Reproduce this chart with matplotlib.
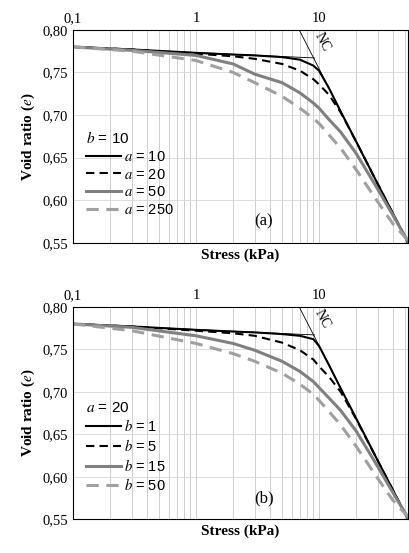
import numpy as np
import matplotlib.pyplot as plt

plt.rcParams['font.family'] = ['Liberation Serif', 'DejaVu Serif']
plt.rcParams['mathtext.fontset'] = 'stix'

stress = [0.1, 0.3, 1, 2, 3, 5, 7, 9, 10, 12, 15, 20, 30, 40, 52.8]

# panel (a): b = 10
a10 = [0.780, 0.777, 0.773, 0.771, 0.770, 0.768, 0.765, 0.758, 0.752, 0.732, 0.704, 0.669, 0.619, 0.584, 0.550]
a20 = [0.780, 0.777, 0.772, 0.769, 0.766, 0.760, 0.752, 0.742, 0.736, 0.724, 0.703, 0.669, 0.619, 0.584, 0.550]
a50 = [0.780, 0.776, 0.770, 0.760, 0.748, 0.738, 0.726, 0.714, 0.708, 0.695, 0.680, 0.655, 0.613, 0.582, 0.552]
a250 = [0.780, 0.775, 0.764, 0.750, 0.738, 0.722, 0.708, 0.696, 0.690, 0.677, 0.661, 0.636, 0.598, 0.572, 0.553]

# panel (b): a = 20
b1 = [0.780, 0.777, 0.773, 0.771, 0.770, 0.768, 0.766, 0.762, 0.754, 0.732, 0.704, 0.669, 0.619, 0.584, 0.550]
b5 = [0.780, 0.777, 0.772, 0.769, 0.766, 0.758, 0.749, 0.738, 0.730, 0.718, 0.700, 0.668, 0.619, 0.584, 0.550]
b15 = [0.780, 0.776, 0.766, 0.757, 0.749, 0.736, 0.724, 0.712, 0.705, 0.693, 0.678, 0.654, 0.612, 0.581, 0.552]
b50 = [0.780, 0.772, 0.757, 0.745, 0.736, 0.722, 0.709, 0.697, 0.690, 0.677, 0.661, 0.636, 0.598, 0.572, 0.553]

# reference lines: elastic and normal consolidation
elastic_s = [0.1, 9.2]
elastic_e = [0.780, 0.767]
nc_s = [6.9, 52.8]
nc_e = [0.800, 0.550]

styles = [dict(color='black', lw=1.5, ls='-'),
          dict(color='black', lw=1.5, ls=(0, (4, 2.5))),
          dict(color='#808080', lw=2.2, ls='-'),
          dict(color='#a0a0a0', lw=2.2, ls=(0, (4, 2.5)))]

fig = plt.figure(figsize=(4.1, 5.53), dpi=100)
ax1 = fig.add_axes([0.178, 0.561, 0.817, 0.385])
ax2 = fig.add_axes([0.178, 0.061, 0.817, 0.384])


def setup(ax, series, labels, title, tag):
    ax.set_xscale('log')
    ax.set_xlim(0.1, 52.8)
    ax.set_ylim(0.55, 0.80)
    ax.plot(elastic_s, elastic_e, color='black', lw=0.6)
    ax.plot(nc_s, nc_e, color='black', lw=0.6)
    ax.text(10.6, 0.786, 'NC', rotation=-62, ha='center', va='center', fontsize=10)
    for y, lab, st in zip(series, labels, styles):
        ax.plot(stress, y, label=lab, **st)
    ax.xaxis.tick_top()
    ax.set_xticks([0.1, 1, 10])
    ax.set_xticklabels(['0,1', '1', '10'])
    ax.set_yticks([0.55, 0.60, 0.65, 0.70, 0.75, 0.80])
    ax.set_yticklabels(['0,55', '0,60', '0,65', '0,70', '0,75', '0,80'])
    ax.tick_params(axis='both', which='both', length=0, labelsize=10.5)
    ax.grid(True, which='both', axis='x', color='#c8c8c8', lw=0.6)
    ax.grid(True, which='major', axis='y', color='#d8d8d8', lw=0.6)
    ax.set_xlabel('Stress (kPa)', fontweight='bold', fontsize=11)
    ax.set_ylabel('Void ratio ($\\mathbf{\\mathit{e}}$)', fontweight='bold', fontsize=11)
    leg = ax.legend(frameon=False, loc='lower left', bbox_to_anchor=(0.0, 0.06),
                    title=title, alignment='left', fontsize=10.5, title_fontsize=11,
                    handlelength=2.4, handletextpad=0.2, labelspacing=0.25,
                    prop={'family': 'Liberation Sans', 'size': 10.5})
    leg.get_title().set_family('Liberation Sans')
    ax.text(0.57, 0.08, tag, transform=ax.transAxes, fontsize=12, ha='center')


setup(ax1, [a10, a20, a50, a250],
      ['$a$ = 10', '$a$ = 20', '$a$ = 50', '$a$ = 250'], '$b$ = 10', '(a)')
setup(ax2, [b1, b5, b15, b50],
      ['$b$ = 1', '$b$ = 5', '$b$ = 15', '$b$ = 50'], '$a$ = 20', '(b)')

fig.savefig('out.png', dpi=100)
